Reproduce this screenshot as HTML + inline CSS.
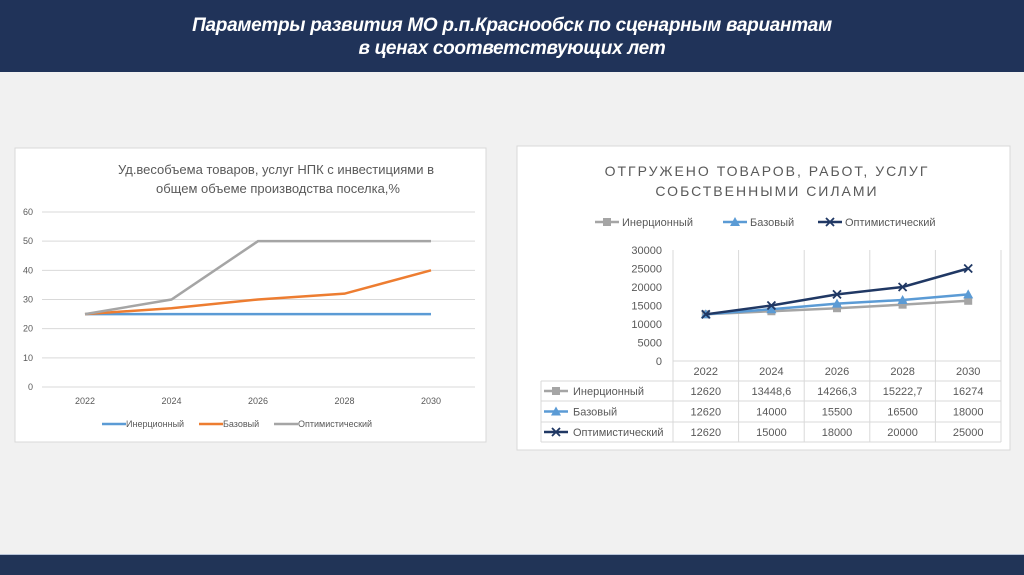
<!DOCTYPE html>
<html><head><meta charset="utf-8"><style>
body{margin:0;width:1024px;height:574px;overflow:hidden;background:#f1f1f1;font-family:"Liberation Sans","DejaVu Sans",sans-serif;position:relative}
#hdr{position:absolute;left:0;top:0;width:1024px;height:72px;background:#203359}
#hdr div{color:#fff;font-weight:bold;font-style:italic;font-size:19px;text-align:center;position:absolute;left:0;width:1024px;top:14px;line-height:23px;letter-spacing:-0.3px}
#ftr{position:absolute;left:0;top:554px;width:1024px;height:20px;background:#213457;border-top:1px solid #b8c4d8}
svg{position:absolute;left:0;top:0}
</style></head><body>
<div id="hdr"><div>Параметры развития МО р.п.Краснообск по сценарным вариантам<br>в ценах соответствующих лет</div></div>
<div id="ftr"></div>
<svg id="s" width="1024" height="574" xmlns="http://www.w3.org/2000/svg">
<rect x="15" y="148" width="471" height="294" fill="#fff" stroke="#d9d9d9"/>
<rect x="517" y="146" width="493" height="304" fill="#fff" stroke="#d9d9d9"/>
<text x="276" y="174" font-size="13" fill="#595959" text-anchor="middle">Уд.весобъема товаров, услуг НПК с инвестициями в</text>
<text x="278" y="193" font-size="13" fill="#595959" text-anchor="middle">общем объеме производства поселка,%</text>
<text x="767" y="176" font-size="14" fill="#595959" text-anchor="middle" letter-spacing="2">ОТГРУЖЕНО ТОВАРОВ, РАБОТ, УСЛУГ</text>
<text x="767" y="196" font-size="14" fill="#595959" text-anchor="middle" letter-spacing="2">СОБСТВЕННЫМИ СИЛАМИ</text>
<g id="L"></g><g id="R"></g>
</svg>
<script>
const yearsL=["2022","2024","2026","2028","2030"];
const inerL=[25,25,25,25,25];
const bazL=[25,27,30,32,40];
const optL=[25,30,50,50,50];
const ticksL=[0,10,20,30,40,50,60];
const years=["2022","2024","2026","2028","2030"];
const iner=[12620,13448.6,14266.3,15222.7,16274];
const baz=[12620,14000,15500,16500,18000];
const opt=[12620,15000,18000,20000,25000];
const inerTxt=["12620","13448,6","14266,3","15222,7","16274"];
const ticksR=[0,5000,10000,15000,20000,25000,30000];
const NS="http://www.w3.org/2000/svg";
function mk(p,tag,a,t){const e=document.createElementNS(NS,tag);for(const k in a)e.setAttribute(k,a[k]);if(t!==undefined)e.textContent=t;p.appendChild(e);return e;}
// left chart
const L=document.getElementById('L');
const lx=i=>85+i*86.5, ly=v=>387-v*175/60;
ticksL.forEach(t=>{const g=mk(L,'line',{x1:42,x2:475,y1:ly(t),y2:ly(t),stroke:'#d9d9d9'});


const tx=mk(L,'text',{x:33,y:ly(t)+3,'font-size':9,fill:'#595959','text-anchor':'end'},t);

});
yearsL.forEach((y,i)=>{const tx=mk(L,'text',{x:lx(i),y:404,'font-size':9,fill:'#595959','text-anchor':'middle'},y);

});
[[inerL,'#5b9bd5','Инерционный',118],[bazL,'#ed7d31','Базовый',215],[optL,'#a5a5a5','Оптимистический',290]].forEach(([d,c,n,lgx])=>{
const p=mk(L,'polyline',{points:d.map((v,i)=>lx(i)+','+ly(v)).join(' '),fill:'none',stroke:c,'stroke-width':2.5});


const g=mk(L,'g',{});


mk(g,'line',{x1:lgx-16,x2:lgx+8,y1:424,y2:424,stroke:c,'stroke-width':2.5});
mk(g,'text',{x:lgx+8,y:427,'font-size':9,fill:'#595959'},n);});
// right chart
const R=document.getElementById('R');
const cw=65.6, cx0=673, rx=i=>cx0+cw*(i+0.5), ry=v=>361-v*111/30000;
ticksR.forEach(t=>{const tx=mk(R,'text',{x:662,y:ry(t)+4,'font-size':11,fill:'#595959','text-anchor':'end'},t);

});
for(let i=0;i<=5;i++){const l=mk(R,'line',{x1:cx0+cw*i,x2:cx0+cw*i,y1:250,y2:442,stroke:'#d9d9d9'});

}
[361,381,401,422,442].forEach((y,k)=>{const l=mk(R,'line',{x1:k==0?cx0:541,x2:1001,y1:y,y2:y,stroke:'#d9d9d9'});

});
mk(R,'line',{x1:541,x2:541,y1:381,y2:442,stroke:'#d9d9d9'});
years.forEach((y,i)=>{const tx=mk(R,'text',{x:rx(i),y:375,'font-size':11,fill:'#595959','text-anchor':'middle'},y);

});
function marker(p,type,x,y,c){
 if(type=='sq')mk(p,'rect',{x:x-4,y:y-4,width:8,height:8,fill:c});
 else if(type=='tri')mk(p,'path',{d:`M${x},${y-5}L${x+5},${y+4}L${x-5},${y+4}Z`,fill:c});
 else mk(p,'path',{d:`M${x-4},${y-4}L${x+4},${y+4}M${x-4},${y+4}L${x+4},${y-4}`,stroke:c,'stroke-width':1.8});}
const series=[[iner,'#a5a5a5','sq','Инерционный',inerTxt,605],[baz,'#5b9bd5','tri','Базовый',null,733],[opt,'#203864','x','Оптимистический',null,828]];
series.forEach(([d,c,m,n,txt,lgx],k)=>{
 const p=mk(R,'polyline',{points:d.map((v,i)=>rx(i)+','+ry(v)).join(' '),fill:'none',stroke:c,'stroke-width':2.5});
 
 
 d.forEach((v,i)=>marker(R,m,rx(i),ry(v),c));
 const g=mk(R,'g',{});
 
 
 mk(g,'line',{x1:lgx-10,x2:lgx+14,y1:222,y2:222,stroke:c,'stroke-width':2.5});marker(g,m,lgx+2,222,c);
 mk(g,'text',{x:lgx+17,y:226,'font-size':11,fill:'#595959'},n);
 const ty=391+k*20.5;
 const rg=mk(R,'g',{});
 
 
 mk(rg,'line',{x1:544,x2:568,y1:ty,y2:ty,stroke:c,'stroke-width':2.5});marker(rg,m,556,ty,c);
 mk(rg,'text',{x:573,y:ty+4,'font-size':11,fill:'#595959'},n);
 d.forEach((v,i)=>mk(rg,'text',{x:rx(i),y:ty+4,'font-size':11,fill:'#595959','text-anchor':'middle'},txt?txt[i]:String(v)));
});
</script>
</body></html>
